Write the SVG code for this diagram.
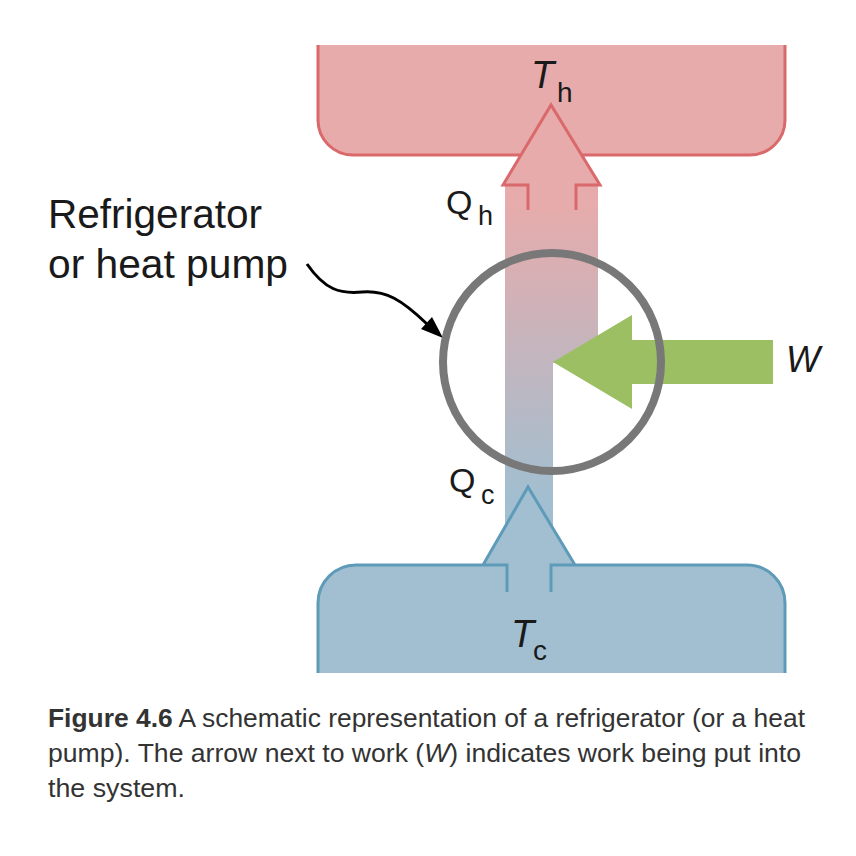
<svg xmlns="http://www.w3.org/2000/svg" width="856" height="856" viewBox="0 0 856 856">
<style>
.lbl{font-family:"Liberation Sans",Arial,sans-serif;fill:#1a1a1a}
.it{font-style:italic}
.cap{font-family:"Liberation Sans",Arial,sans-serif;fill:#333;font-size:26px}
.hotf{fill:#e8abab}
.hots{fill:none;stroke:#d9696b;stroke-width:3;stroke-linejoin:miter}
.coldf{fill:#a1bfd0}
.colds{fill:none;stroke:#5e9bb8;stroke-width:3;stroke-linejoin:miter}
</style>
<defs>
<linearGradient id="flow" gradientUnits="userSpaceOnUse" x1="0" y1="200" x2="0" y2="500">
<stop offset="0" stop-color="#e8abab"/>
<stop offset="1" stop-color="#a1bfd0"/>
</linearGradient>
</defs>
<rect width="856" height="856" fill="#fff"/>
<g id="connectors">
<g id="heat-flow">
<rect x="505" y="180" width="93" height="183" fill="url(#flow)"/>
<rect x="505" y="362" width="48" height="200" fill="url(#flow)"/>
</g>
<g id="pointer">
<path d="M307,264 C325,290 340,294 362,292 C386,290 402,300 427,324" fill="none" stroke="#000" stroke-width="3"/>
<polygon points="443,338 421,329 432,317" fill="#000"/>
</g>
</g>
<g id="hot-reservoir">
<path class="hotf" d="M318,45 H785 V120 A35,35 0 0 1 750,155 H582 L600,185 H576 V210 H528 V185 H503 L521,155 H353 A35,35 0 0 1 318,120 Z"/>
<path class="hots" d="M318,45 V120 A35,35 0 0 0 353,155 H521 M582,155 H750 A35,35 0 0 0 785,120 V45 M528,210 V185 H503 L551,105 L600,185 H576 V210"/>
<text class="lbl it" x="531" y="88" font-size="38">T</text>
<text class="lbl" x="557" y="102" font-size="28">h</text>
</g>
<g id="cold-reservoir">
<path class="coldf" d="M318,673 V603 A38,38 0 0 1 356,565 H483 L528,487 L575,565 H747 A38,38 0 0 1 785,603 V673 Z"/>
<path class="colds" d="M318,673 V603 A38,38 0 0 1 356,565 H507 V592 M551,592 V565 H747 A38,38 0 0 1 785,603 V673 M483,565 L528,487 L575,565"/>
<text class="lbl it" x="511" y="647" font-size="38">T</text>
<text class="lbl" x="533" y="660" font-size="28">c</text>
</g>
<g id="work">
<polygon points="553,362 632,315 632,340 773,340 773,384 632,384 632,409" fill="#9bbf62"/>
<text class="lbl it" x="786" y="372" font-size="36">W</text>
</g>
<g id="engine">
<circle cx="552" cy="362" r="109" fill="none" stroke="#787878" stroke-width="8"/>
</g>
<g id="flow-labels">
<text class="lbl" x="446" y="214" font-size="34">Q</text>
<text class="lbl" x="478" y="225" font-size="27">h</text>
<text class="lbl" x="449" y="492" font-size="34">Q</text>
<text class="lbl" x="481" y="504" font-size="27">c</text>
</g>
<g id="device-label">
<text class="lbl" x="48" y="228" font-size="40" textLength="214" lengthAdjust="spacingAndGlyphs">Refrigerator</text>
<text class="lbl" x="48" y="278" font-size="40" textLength="240" lengthAdjust="spacingAndGlyphs">or heat pump</text>
</g>
<g id="caption">
<text class="cap" x="48" y="727" textLength="757" lengthAdjust="spacingAndGlyphs"><tspan font-weight="bold">Figure 4.6</tspan> A schematic representation of a refrigerator (or a heat</text>
<text class="cap" x="48" y="762" textLength="753" lengthAdjust="spacingAndGlyphs">pump). The arrow next to work (<tspan font-style="italic">W</tspan>) indicates work being put into</text>
<text class="cap" x="48" y="797" textLength="137" lengthAdjust="spacingAndGlyphs">the system.</text>
</g>
</svg>
